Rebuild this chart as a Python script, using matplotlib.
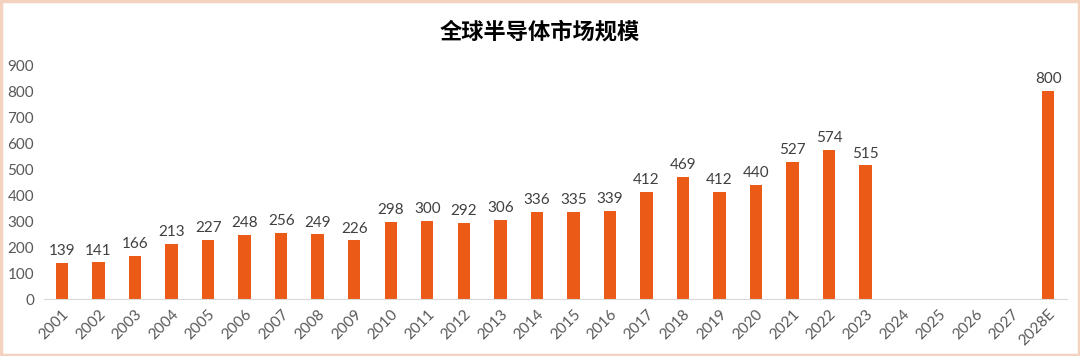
import matplotlib.pyplot as plt
from matplotlib.patches import Rectangle
import numpy as np

plt.rcParams['font.family'] = ['Lato', 'Noto Sans CJK SC', 'DejaVu Sans']

years = ['2001', '2002', '2003', '2004', '2005', '2006', '2007', '2008', '2009', '2010',
         '2011', '2012', '2013', '2014', '2015', '2016', '2017', '2018', '2019', '2020',
         '2021', '2022', '2023', '2024', '2025', '2026', '2027', '2028E']
values = [139, 141, 166, 213, 227, 248, 256, 249, 226, 298,
          300, 292, 306, 336, 335, 339, 412, 469, 412, 440,
          527, 574, 515, None, None, None, None, 800]
title = '全球半导体市场规模'

BAR = '#EC5A17'

fig = plt.figure(figsize=(10.8, 3.56), dpi=100)
ax = fig.add_axes([0.0405, 0.160, 0.947, 0.657])

x = np.arange(len(years))
for i, v in enumerate(values):
    if v is None:
        continue
    ax.bar(x[i], v, width=0.34, color=BAR, zorder=2)
    ax.text(x[i], v + 18, str(v), ha='center', va='bottom', fontsize=11, color='#404040')

ax.set_xlim(-0.5, len(years) - 0.5)
ax.set_ylim(0, 900)
ax.set_yticks(range(0, 1000, 100))
ax.set_xticks(x)
ax.set_xticklabels(years, rotation=45, ha='right', rotation_mode='anchor')
ax.tick_params(axis='both', length=0, labelsize=11, labelcolor='#595959')
ax.tick_params(axis='y', pad=7)
ax.tick_params(axis='x', pad=6)

for s in ['top', 'right', 'left']:
    ax.spines[s].set_visible(False)
ax.spines['bottom'].set_color('#D9D9D9')

fig.text(0.5, 0.91, title, ha='center', va='center', fontsize=16, fontweight='bold',
         color='#000000', family=['Noto Sans CJK SC'])

# light peach frame around the picture
fig.patches.append(Rectangle((0.001, 0.002), 0.998, 0.996, transform=fig.transFigure,
                             fill=False, edgecolor='#F3D2BF', linewidth=2.5))

fig.savefig('out.png', dpi=100)
